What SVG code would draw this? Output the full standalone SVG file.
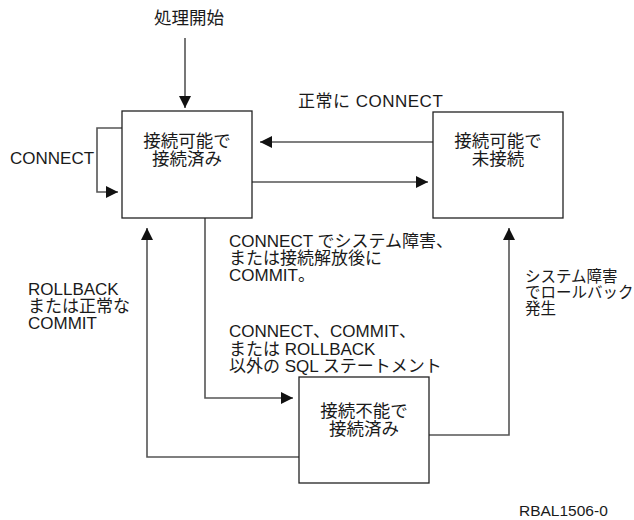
<svg xmlns="http://www.w3.org/2000/svg" width="634" height="520" viewBox="0 0 634 520">
<defs>
<style>
text{font-family:"Liberation Sans","Noto Sans CJK JP",sans-serif;font-size:17px;fill:#1a1a1a}
.s{font-size:15.5px}
.k{font-size:17.5px}
.box{fill:#fff;stroke:#222;stroke-width:1.3}
.ln{fill:none;stroke:#555;stroke-width:1.6}
.c{text-anchor:middle}
</style>
<marker id="ah" viewBox="0 0 12 12" refX="12" refY="6" markerWidth="12" markerHeight="12" markerUnits="userSpaceOnUse" orient="auto">
<path d="M0,0 L12,6 L0,12 Z" fill="#111"/>
</marker>
</defs>
<rect width="634" height="520" fill="#fff"/>
<g id="connectors">
<path class="ln" d="M185,38 V108" marker-end="url(#ah)"/>
<path class="ln" d="M122,128 H97 V192 H118" marker-end="url(#ah)"/>
<path class="ln" d="M433,142 H260" marker-end="url(#ah)"/>
<path class="ln" d="M252,182 H428" marker-end="url(#ah)"/>
<path class="ln" d="M205,218 V398 H293" marker-end="url(#ah)"/>
<path class="ln" d="M299,457 H147 V228" marker-end="url(#ah)"/>
<path class="ln" d="M429,435 H509 V228" marker-end="url(#ah)"/>
</g>
<g id="labels">
<text x="189" y="24" class="c k">処理開始</text>
<text x="10" y="164">CONNECT</text>
<text x="298" y="107" letter-spacing="0.5">正常に CONNECT</text>
<text x="229" y="247">CONNECT でシステム障害、<tspan x="229" dy="17">または接続解放後に</tspan><tspan x="229" dy="17">COMMIT。</tspan></text>
<text x="229" y="337">CONNECT、COMMIT、<tspan x="229" dy="17.5">または ROLLBACK</tspan><tspan x="229" dy="17.5">以外の SQL ステートメント</tspan></text>
<text x="28" y="295">ROLLBACK<tspan x="28" dy="17">または正常な</tspan><tspan x="28" dy="17">COMMIT</tspan></text>
<text x="525" y="282" class="s">システム障害<tspan x="525" dy="16">でロールバック</tspan><tspan x="525" dy="16">発生</tspan></text>
<text x="519" y="516" class="s">RBAL1506-0</text>
</g>
<g id="node1">
<rect class="box" x="122" y="111" width="130" height="107"/>
<text x="187" y="147" class="c k">接続可能で<tspan x="187" dy="18">接続済み</tspan></text>
</g>
<g id="node2">
<rect class="box" x="433" y="112" width="130" height="106"/>
<text x="498" y="147" class="c k">接続可能で<tspan x="498" dy="18">未接続</tspan></text>
</g>
<g id="node3">
<rect class="box" x="299" y="377" width="130" height="106"/>
<text x="364" y="417" class="c k">接続不能で<tspan x="364" dy="18">接続済み</tspan></text>
</g>
</svg>
